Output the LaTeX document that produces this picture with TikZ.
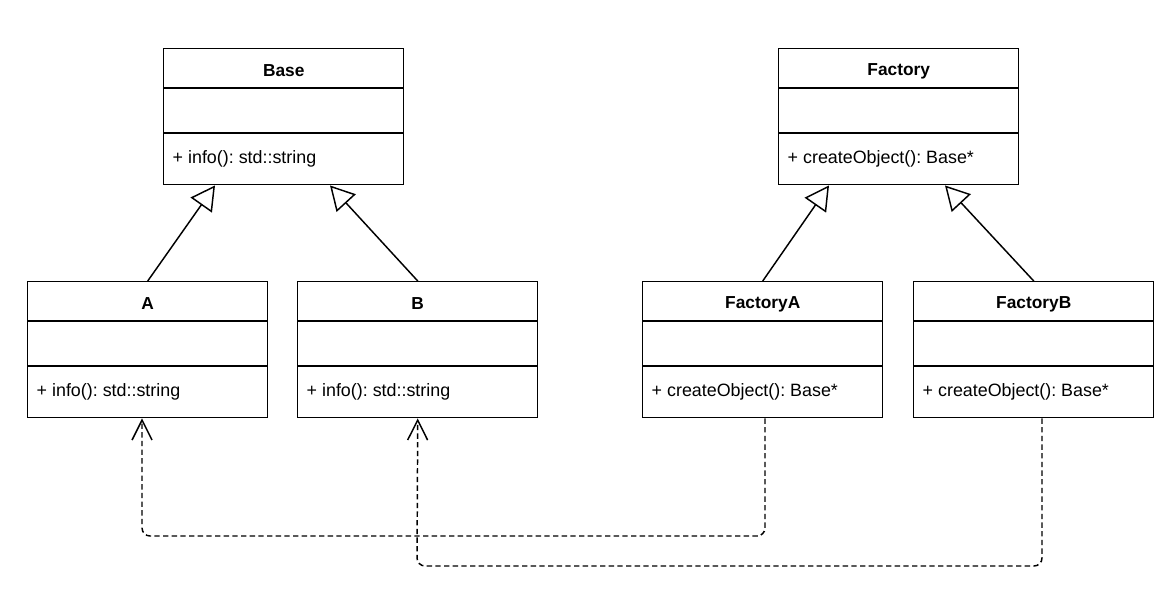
\documentclass[tikz,border=0pt]{standalone}
\usepackage{fontspec}
\setmainfont{Liberation Sans}
\usetikzlibrary{arrows.meta,calc}
\frenchspacing
\begin{document}
\begin{tikzpicture}[x=0.75pt,y=-0.75pt,
  line width=1.1pt,
  classbox/.style={draw=black, line width=1.1pt, minimum width=180pt, minimum height=102pt, inner sep=0pt, anchor=north west},
  divider/.style={draw=black, line width=1.1pt},
  titletext/.style={font=\fontsize{13}{15}\selectfont\bfseries, inner sep=0pt},
  optext/.style={font=\fontsize{13.4}{15}\selectfont, inner sep=0pt, anchor=west},
  inherit/.style={draw=black, line width=1.1pt, -{Triangle[open, length=18pt, width=19.5pt, fill=white]}},
  depend/.style={draw=black, line width=1.1pt, dash pattern=on 4pt off 2.5pt, rounded corners=6pt, -{Straight Barb[length=15pt, width=15pt]}}
]
\useasboundingbox (0,0) rectangle (1175,596);
\fill[white] (0,0) rectangle (1175,596);

\newcommand\umlbox[5]{%
  \node[classbox] (#1) at (#2,#3) {};
  \draw[divider] ($(#1.north west)+(0,40)$) -- ($(#1.north east)+(0,40)$);
  \draw[divider] ($(#1.north west)+(0,85)$) -- ($(#1.north east)+(0,85)$);
  \node[titletext] (#1title) at ($(#1.north)+(0,23)$) {#4};
  \node[optext] (#1op) at ($(#1.north west)+(9,111)$) {#5};
}

\umlbox{Base}{163}{48}{Base}{+ info(): std::string}
\umlbox{Factory}{778}{48}{Factory}{+ createObject(): Base*}
\umlbox{A}{27}{281}{A}{+ info(): std::string}
\umlbox{B}{297}{281}{B}{+ info(): std::string}
\umlbox{FactoryA}{642}{281}{FactoryA}{+ createObject(): Base*}
\umlbox{FactoryB}{913}{281}{FactoryB}{+ createObject(): Base*}

% generalization
\draw[inherit] (A.north) -- ($(Base.south west)+(52,0)$);
\draw[inherit] (B.north) -- ($(Base.south west)+(167,0)$);
\draw[inherit] (FactoryA.north) -- ($(Factory.south west)+(51,0)$);
\draw[inherit] (FactoryB.north) -- ($(Factory.south west)+(167,0)$);

% dependencies
\coordinate (dA) at (142,536);
\coordinate (dB) at (417,566);
\draw[depend] ($(FactoryA.south west)+(123,0)$) |- (dA) -- ($(A.south west)+(115,0)$);
\draw[depend] ($(FactoryB.south west)+(129,0)$) |- (dB) -- (B.south);
\end{tikzpicture}
\end{document}
